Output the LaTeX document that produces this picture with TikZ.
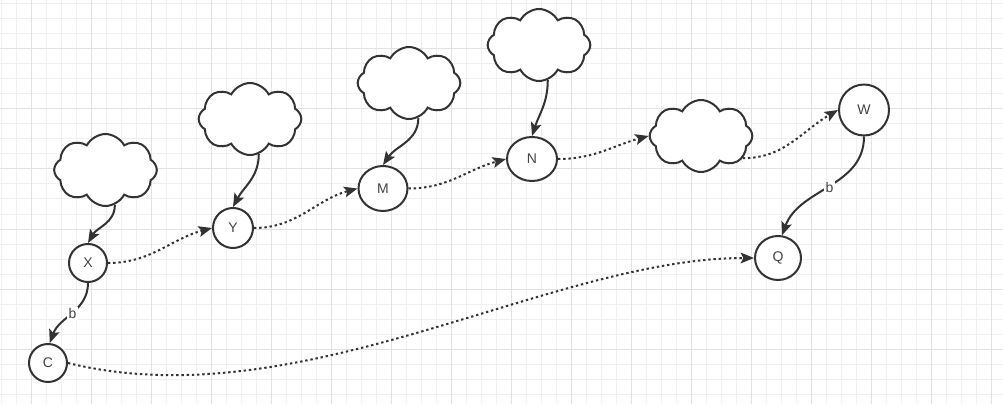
\documentclass[tikz,border=0pt]{standalone}
\usepackage{fontspec}
\setmainfont{Liberation Sans}
\usepackage{xcolor}
\definecolor{mygray}{RGB}{51, 51, 51}
\definecolor{mytext}{RGB}{68, 68, 68}
\definecolor{gridminor}{RGB}{240, 240, 240}
\definecolor{gridmajor}{RGB}{226, 226, 226}
\usepackage{tikz}
\usetikzlibrary{arrows.meta, shapes.geometric, shapes.symbols}

\begin{document}
\begin{tikzpicture}[
    x=0.75pt, y=0.75pt,
    every node/.style={align=center, text=mytext, font=\fontsize{10.5}{12}\selectfont},
    state/.style={ellipse, draw=mygray, line width=1.5pt, fill=white, inner sep=0pt},
    cloudbox/.style={cloud, cloud puffs=8, cloud puff arc=125, draw=mygray, line width=1.5pt, fill=white, minimum width=77pt, minimum height=54pt, inner sep=0pt},
    arrow/.style={-{Stealth[length=10pt, width=8pt, inset=2pt]}, draw=mygray, line width=1.5pt},
    dotarrow/.style={arrow, dash pattern=on 1.8pt off 2.1pt},
    lbl/.style={fill=white, inner sep=1pt}
]

% Grid
\useasboundingbox (0,0) rectangle (1003,404);
\fill[white] (0,0) rectangle (1003,404);
\foreach \gx in {1,16,...,991} \draw[gridminor, line width=0.75pt] (\gx,0) -- (\gx,404);
\foreach \gy in {10,25,...,400} \draw[gridminor, line width=0.75pt] (0,\gy) -- (1003,\gy);
\foreach \gx in {31,91,...,991} \draw[gridmajor, line width=0.75pt] (\gx,0) -- (\gx,404);
\foreach \gy in {55,115,...,355} \draw[gridmajor, line width=0.75pt] (0,\gy) -- (1003,\gy);

% Nodes
\node[state, minimum width=28.5pt, minimum height=28.5pt] (X) at (88,141) {X};
\node[state, minimum width=28.5pt, minimum height=28.5pt] (C) at (48,41) {C};
\node[state, minimum width=30pt, minimum height=30pt] (Y) at (233,176) {Y};
\node[state, minimum width=36.75pt, minimum height=33.75pt] (M) at (383,215.5) {M};
\node[state, minimum width=37.5pt, minimum height=33pt] (N) at (532,245) {N};
\node[state, minimum width=37.5pt, minimum height=38.25pt] (W) at (864,294) {W};
\node[state, minimum width=34.5pt, minimum height=33pt] (Q) at (778,146) {Q};
\node[cloudbox] (c1) at (105.5,234) {};
\node[cloudbox] (c2) at (250,285) {};
\node[cloudbox] (c3) at (409,321) {};
\node[cloudbox] (c4) at (539,359) {};
\node[cloudbox] (c5) at (701,268) {};

% Connections
\draw[arrow] (c1.-75) to[out=-90, in=60] (X.north);
\draw[arrow] (c2.-76) to[out=-90, in=62] (Y.north);
\draw[arrow] (c3.-75) to[out=-90, in=56] (M.north);
\draw[arrow] (c4.-76) to[out=-90, in=72] (N.north);
\draw[arrow] (X.south) to[out=-90, in=70] node[lbl]{b} (C.85);
\draw[arrow] (W.south) to[out=-90, in=70] node[lbl]{b} (Q.80);
\draw[dotarrow] (X.east) to[out=0, in=195] (Y.west);
\draw[dotarrow] (Y.east) to[out=0, in=195] (M.west);
\draw[dotarrow] (M.east) to[out=0, in=195] (N.west);
\draw[dotarrow] (N.east) to[out=0, in=195] (c5.west);
\draw[dotarrow] (c5.-28) to[out=0, in=210] (W.west);
\draw[dotarrow] (C.east) .. controls +(232,-57) and +(-204,0) .. (Q.west);

\end{tikzpicture}
\end{document}
